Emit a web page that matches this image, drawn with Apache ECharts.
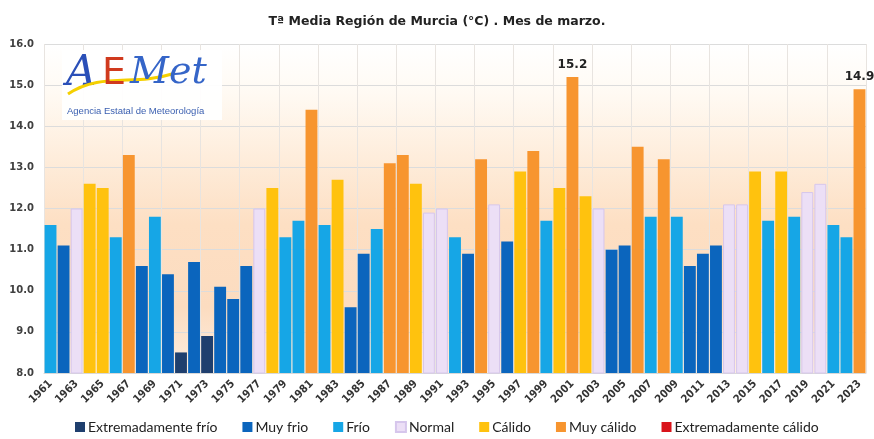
<!DOCTYPE html>
<html>
<head>
<meta charset="utf-8">
<script src="https://cdn.jsdelivr.net/npm/echarts@6/dist/echarts.min.js"></script>
<style>
html,body{margin:0;padding:0;background:#ffffff;}
#c{width:874px;height:439px;}
</style>
</head>
<body>
<div id="c"></div>
<script>
const years = [];
for (let y = 1961; y <= 2023; y++) years.push(String(y));

const values = [
  11.6, 11.1, 12.0, 12.6, 12.5, 11.3, 13.3, 10.6, 11.8, 10.4,
  8.5, 10.7, 8.9, 10.1, 9.8, 10.6, 12.0, 12.5, 11.3, 11.7,
  14.4, 11.6, 12.7, 9.6, 10.9, 11.5, 13.1, 13.3, 12.6, 11.9,
  12.0, 11.3, 10.9, 13.2, 12.1, 11.2, 12.9, 13.4, 11.7, 12.5,
  15.2, 12.3, 12.0, 11.0, 11.1, 13.5, 11.8, 13.2, 11.8, 10.6,
  10.9, 11.1, 12.1, 12.1, 12.9, 11.7, 12.9, 11.8, 12.4, 12.6,
  11.6, 11.3, 14.9
];

// 0 Extremadamente frío, 1 Muy frio, 2 Frío, 3 Normal, 4 Cálido, 5 Muy cálido, 6 Extremadamente cálido
const classes = [
  2, 1, 3, 4, 4, 2, 5, 1, 2, 1,
  0, 1, 0, 1, 1, 1, 3, 4, 2, 2,
  5, 2, 4, 1, 1, 2, 5, 5, 4, 3,
  3, 2, 1, 5, 3, 1, 4, 5, 2, 4,
  5, 4, 3, 1, 1, 5, 2, 5, 2, 1,
  1, 1, 3, 3, 4, 2, 4, 2, 3, 3,
  2, 2, 5
];

const classNames = ['Extremadamente frío', 'Muy frio', 'Frío', 'Normal', 'Cálido', 'Muy cálido', 'Extremadamente cálido'];
const classColors = ['#1f3f6e', '#0b65bd', '#16a6e6', '#ecdff6', '#ffc20e', '#f7952f', '#d9141b'];
const classBorders = ['#1f3f6e', '#0b65bd', '#16a6e6', '#d6c6ec', '#ffc20e', '#f7952f', '#d9141b'];
const labelledYears = ['2001', '2023'];

const yTicks = [8, 9, 10, 11, 12, 13, 14, 15, 16];

const series = classNames.map((name, ci) => ({
  name: name,
  type: 'bar',
  barGap: '-100%',
  barCategoryGap: '9%',
  itemStyle: { color: classColors[ci], borderColor: classBorders[ci], borderWidth: ci === 3 ? 1 : 0 },
  data: values.map((v, i) => {
    if (classes[i] !== ci) return '-';
    if (labelledYears.indexOf(years[i]) >= 0) {
      return { value: v, label: { show: true, position: 'top', distance: 6, fontSize: 12, fontWeight: 'bold', color: '#222', fontFamily: 'DejaVu Sans', formatter: (p) => p.value.toFixed(1) } };
    }
    return v;
  })
}));

const chart = echarts.init(document.getElementById('c'), null, { renderer: 'canvas' });
chart.setOption({
  animation: false,
  backgroundColor: '#ffffff',
  title: {
    text: 'Tª Media Región de Murcia (°C) . Mes de marzo.',
    left: 'center',
    top: 10,
    textStyle: { fontSize: 12.5, fontWeight: 'bold', color: '#222', fontFamily: 'DejaVu Sans' }
  },
  grid: {
    left: 44, right: 8, top: 44, bottom: 66,
    show: true,
    borderWidth: 0,
    backgroundColor: {
      type: 'linear', x: 0, y: 0, x2: 0, y2: 1,
      colorStops: [
        { offset: 0, color: '#ffffff' },
        { offset: 0.15, color: '#fffaf3' },
        { offset: 0.55, color: '#fddfc3' },
        { offset: 0.8, color: '#fcdcc0' },
        { offset: 1, color: '#fdeee0' }
      ]
    }
  },
  legend: {
    bottom: 0,
    left: 70,
    itemWidth: 10,
    itemHeight: 10,
    itemGap: 25,
    icon: 'rect',
    textStyle: { fontSize: 14, color: '#222', fontFamily: 'Lato', padding: [0, 0, 0, -2] },
    data: classNames
  },
  xAxis: {
    type: 'category',
    data: years,
    axisLine: { show: true, lineStyle: { color: '#d9d9d9' } },
    axisTick: { show: false },
    axisLabel: { interval: 1, rotate: 45, fontSize: 11, fontWeight: 'bold', color: '#333', margin: 9, fontFamily: 'DejaVu Sans Condensed' },
    splitLine: { show: true, interval: 2, lineStyle: { color: '#e8e4e0', width: 1 } }
  },
  yAxis: {
    type: 'value',
    min: yTicks[0],
    max: yTicks[yTicks.length - 1],
    interval: 1,
    axisLine: { show: false },
    axisTick: { show: false },
    axisLabel: { fontSize: 10, fontWeight: 'bold', color: '#404040', margin: 10, fontFamily: 'DejaVu Sans', formatter: (v) => v.toFixed(1) },
    splitLine: { show: true, lineStyle: { color: '#dcdcdc', width: 1 } }
  },
  graphic: [
    { type: 'rect', left: 62, top: 50, shape: { width: 160, height: 70 }, style: { fill: 'rgba(255,255,255,0.92)' }, z: 10 },
    { type: 'text', z: 11, left: 66, top: 53, style: { text: 'A', fontSize: 42, fontStyle: 'italic', fontFamily: 'DejaVu Serif', fill: '#2a4fb8' } },
    { type: 'bezierCurve', z: 12, shape: { x1: 68, y1: 94, cpx1: 100, cpy1: 72, cpx2: 135, cpy2: 86, x2: 172, y2: 74 }, style: { stroke: '#f5d000', lineWidth: 3, fill: null } },
    { type: 'text', z: 13, left: 102, top: 55, style: { text: 'E', fontSize: 38, fontFamily: 'DejaVu Sans', fill: '#d03a1e' } },
    { type: 'text', z: 13, left: 130, top: 54, style: { text: 'Met', fontSize: 38, fontStyle: 'italic', fontFamily: 'DejaVu Serif', fill: '#3565c8' } },
    { type: 'text', z: 13, left: 67, top: 106, style: { text: 'Agencia Estatal de Meteorología', fontSize: 9.5, fontFamily: 'Liberation Sans', fill: '#3a5fb0' } }
  ],
  series: series
});
</script>
</body>
</html>
